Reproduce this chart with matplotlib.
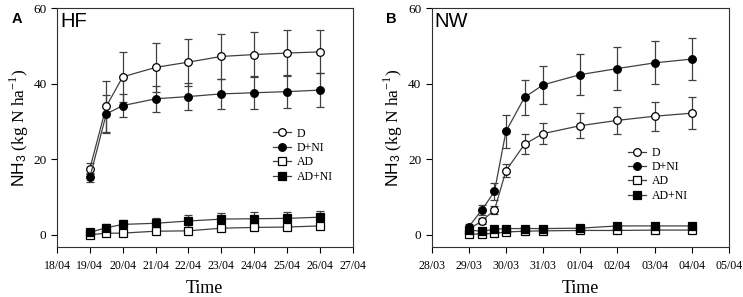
import matplotlib
matplotlib.use("Agg")
import matplotlib.pyplot as plt

# ---- data (x = days after first tick date) ----
hf_ticks = ["18/04", "19/04", "20/04", "21/04", "22/04", "23/04", "24/04", "25/04", "26/04", "27/04"]
hf_x = [1, 1.5, 2, 3, 4, 5, 6, 7, 8]
hf_D = [17.5, 34.0, 41.8, 44.3, 45.7, 47.2, 47.7, 48.1, 48.4]
hf_D_err = [1.5, 6.8, 6.7, 6.5, 6.2, 5.9, 6.0, 6.0, 5.7]
hf_DNI = [15.2, 32.0, 34.2, 36.0, 36.6, 37.3, 37.6, 37.9, 38.3]
hf_DNI_err = [1.3, 5.0, 3.1, 3.5, 3.5, 4.0, 4.3, 4.4, 4.5]
hf_AD = [0.1, 0.45, 0.5, 1.0, 1.1, 1.8, 2.0, 2.1, 2.4]
hf_AD_err = [0.3, 0.4, 0.5, 0.6, 0.6, 0.7, 0.7, 0.8, 0.8]
hf_ADNI = [0.7, 1.9, 2.8, 3.1, 3.7, 4.2, 4.3, 4.4, 4.7]
hf_ADNI_err = [0.6, 1.0, 1.2, 1.4, 1.5, 1.6, 1.7, 1.7, 1.6]

nw_ticks = ["28/03", "29/03", "30/03", "31/03", "01/04", "02/04", "03/04", "04/04", "05/04"]
nw_x = [1, 1.35, 1.69, 2, 2.5, 3, 4, 5, 6, 7]
nw_D = [1.5, 3.7, 6.6, 17.0, 24.0, 26.8, 28.9, 30.3, 31.4, 32.2]
nw_D_err = [0.5, 0.8, 1.0, 1.8, 2.6, 2.7, 3.3, 3.5, 3.8, 4.2]
nw_DNI = [2.2, 6.6, 11.5, 27.4, 36.4, 39.7, 42.4, 44.0, 45.5, 46.5]
nw_DNI_err = [0.6, 1.3, 2.2, 4.4, 4.7, 5.1, 5.5, 5.6, 5.7, 5.6]
nw_AD = [0.2, 0.3, 0.4, 0.8, 1.0, 1.1, 1.2, 1.2, 1.3, 1.3]
nw_AD_err = [0.2, 0.2, 0.2, 0.3, 0.3, 0.3, 0.3, 0.3, 0.3, 0.3]
nw_ADNI = [1.3, 1.0, 1.5, 1.7, 1.7, 1.7, 1.8, 2.4, 2.4, 2.4]
nw_ADNI_err = [0.3, 0.3, 0.3, 0.3, 0.3, 0.3, 0.3, 0.3, 0.3, 0.3]

labels = ["D", "D+NI", "AD", "AD+NI"]
markers = ["o", "o", "s", "s"]
faces = ["white", "black", "white", "black"]

plt.rcParams["font.family"] = ["Liberation Serif", "DejaVu Serif"]
plt.rcParams["mathtext.fontset"] = "custom"
plt.rcParams["mathtext.rm"] = "Liberation Serif"
plt.rcParams["mathtext.sf"] = "Liberation Sans"

fig = plt.figure(figsize=(7.43, 2.97), dpi=100)
axA = fig.add_axes([0.0767, 0.168, 0.398, 0.805])
axB = fig.add_axes([0.581, 0.168, 0.400, 0.805])


def draw_panel(ax, x, series, errs, ticklabels, name, letter, leg_anchor):
    handles = []
    for y, e, lab, m, fc in zip(series, errs, labels, markers, faces):
        c = ax.errorbar(x, y, yerr=e, label=lab, marker=m, markersize=5.5,
                        markerfacecolor=fc, markeredgecolor="black", markeredgewidth=0.9,
                        color="#404040", linewidth=0.9, ecolor="#404040",
                        elinewidth=0.9, capsize=2.6, capthick=0.9)
        handles.append(c[0])
    ax.set_xlim(0, len(ticklabels) - 1)
    ax.set_ylim(-3.2, 60)
    ax.set_xticks(range(len(ticklabels)))
    ax.set_xticklabels(ticklabels, fontsize=8.5)
    ax.set_yticks([0, 20, 40, 60])
    ax.tick_params(axis="y", labelsize=9.5, direction="out", length=4, width=0.8)
    ax.tick_params(axis="x", direction="out", length=4, width=0.8, pad=5)
    for s in ax.spines.values():
        s.set_linewidth(0.8)
        s.set_color("#303030")
    ax.set_xlabel("Time", fontsize=13, labelpad=6)
    ax.set_ylabel(r"$\mathsf{NH_3}$ (kg N ha$^{-1}$)", fontsize=12.5, labelpad=2)
    ax.text(0.01, 0.985, name, transform=ax.transAxes, ha="left", va="top",
            fontsize=14.5, family="Liberation Sans")
    ax.text(-0.155, 0.985, letter, transform=ax.transAxes, ha="left", va="top",
            fontsize=10.5, fontweight="bold", family="Liberation Sans")
    ax.legend(handles, labels, loc="upper left", bbox_to_anchor=leg_anchor,
              frameon=False, fontsize=8.5, handlelength=1.5, handletextpad=0.5,
              labelspacing=0.2, borderpad=0, borderaxespad=0)


draw_panel(axA, hf_x, [hf_D, hf_DNI, hf_AD, hf_ADNI],
           [hf_D_err, hf_DNI_err, hf_AD_err, hf_ADNI_err],
           hf_ticks, "HF", "A", (0.73, 0.50))
draw_panel(axB, nw_x, [nw_D, nw_DNI, nw_AD, nw_ADNI],
           [nw_D_err, nw_DNI_err, nw_AD_err, nw_ADNI_err],
           nw_ticks, "NW", "B", (0.66, 0.42))

fig.savefig("out.png", dpi=100)
